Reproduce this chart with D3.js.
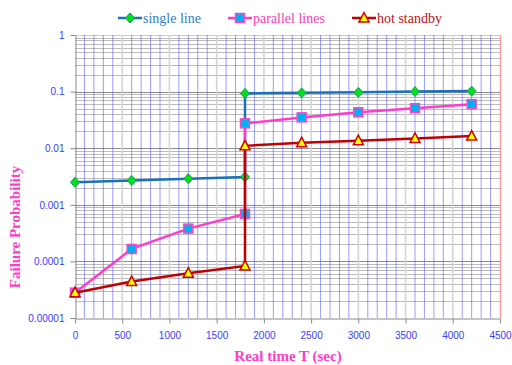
<!DOCTYPE html>
<html>
<head>
<meta charset="utf-8">
<script src="https://cdn.jsdelivr.net/npm/d3@7"></script>
<style>
  body { margin: 0; background: #fff; }
  svg { display: block; }
</style>
</head>
<body>
<script>
// chart data
const times = [0, 600, 1200, 1800, 1800, 2400, 3000, 3600, 4200];
const singleLine = [0.0025, 0.0027, 0.0029, 0.0031, 0.093, 0.095, 0.097, 0.1, 0.102];
const parallelLines = [0.000028, 0.000166, 0.00038, 0.00069, 0.0275, 0.035, 0.043, 0.051, 0.06];
const hotStandby = [0.000028, 0.000044, 0.000062, 0.000083, 0.011, 0.0125, 0.0136, 0.0149, 0.0164];
const seriesNames = ['single line', 'parallel lines', 'hot standby'];
const yTicks = [1, 0.1, 0.01, 0.001, 0.0001, 0.00001];
const yTickLabels = ['1', '0.1', '0.01', '0.001', '0.0001', '0.00001'];
const xTicks = [0, 500, 1000, 1500, 2000, 2500, 3000, 3500, 4000, 4500];

var width = 512, height = 365;
var plot = { left: 75, right: 500, top: 35, bottom: 318 };

var svg = d3.select('body').append('svg')
  .attr('width', width)
  .attr('height', height);

var x = d3.scaleLinear().domain([0, 4500]).range([plot.left, plot.right]);
var y = d3.scaleLog().domain([0.00001, 1]).range([plot.bottom, plot.top]);

var grid = svg.append('g').attr('class', 'grid');

// horizontal minor lines (2..9 in each decade)
var minorY = [];
for (var e = -5; e < 0; e++) {
  for (var k = 2; k <= 9; k++) minorY.push(k * Math.pow(10, e));
}
grid.selectAll('.hminor')
  .data(minorY)
  .enter().append('line')
  .attr('x1', plot.left).attr('x2', plot.right)
  .attr('y1', function(d) { return Math.round(y(d)) + 0.5; })
  .attr('y2', function(d) { return Math.round(y(d)) + 0.5; })
  .attr('stroke', '#bcbcbc')
  .attr('stroke-width', 1);

grid.selectAll('.hmajor')
  .data(yTicks.slice(0, 5))
  .enter().append('line')
  .attr('x1', plot.left).attr('x2', plot.right)
  .attr('y1', function(d) { return Math.round(y(d)) + 0.5; })
  .attr('y2', function(d) { return Math.round(y(d)) + 0.5; })
  .attr('stroke', function(d) { return d === 1 ? '#cccccc' : '#8c8c8c'; })
  .attr('stroke-width', 1);

// vertical lines: blue every 100, gray every 500
var minorX = d3.range(100, 4500, 100).filter(function(d) { return d % 500 !== 0; });
grid.selectAll('.vminor')
  .data(minorX)
  .enter().append('line')
  .attr('x1', function(d) { return x(d); })
  .attr('x2', function(d) { return x(d); })
  .attr('y1', plot.top).attr('y2', plot.bottom)
  .attr('stroke', '#5a5aff')
  .attr('stroke-opacity', 0.6)
  .attr('stroke-width', 1);

grid.selectAll('.vmajor')
  .data(xTicks.slice(1, 9))
  .enter().append('line')
  .attr('x1', function(d) { return x(d); })
  .attr('x2', function(d) { return x(d); })
  .attr('y1', plot.top).attr('y2', plot.bottom)
  .attr('stroke', '#d4d4d4')
  .attr('stroke-width', 1.6);

grid.append('line')
  .attr('x1', x(4500) + 0.5).attr('x2', x(4500) + 0.5)
  .attr('y1', plot.top).attr('y2', plot.bottom)
  .attr('stroke', '#ff9a9a')
  .attr('stroke-width', 1.5);

// axes
var yAxis = svg.append('g')
  .attr('transform', 'translate(' + (plot.left + 0.5) + ',0)')
  .call(d3.axisLeft(y)
    .tickValues(yTicks)
    .tickFormat(function(d, i) { return yTickLabels[i]; })
    .tickSize(5)
    .tickSizeOuter(0)
    .tickPadding(6));

var xAxis = svg.append('g')
  .attr('transform', 'translate(0,' + (plot.bottom + 0.5) + ')')
  .call(d3.axisBottom(x)
    .tickValues(xTicks)
    .tickFormat(d3.format('d'))
    .tickSize(5)
    .tickSizeOuter(0)
    .tickPadding(8));

[yAxis, xAxis].forEach(function(a) {
  a.select('.domain').attr('stroke', '#8a8a8a');
  a.selectAll('.tick line').attr('stroke', '#8a8a8a');
  a.selectAll('.tick text')
    .attr('fill', '#3a3aff')
    .style('font-family', '"Liberation Sans", Arial, sans-serif')
    .style('font-size', '10px');
});

// axis titles
svg.append('text')
  .attr('x', 288)
  .attr('y', 361)
  .attr('text-anchor', 'middle')
  .attr('fill', '#ff3cc8')
  .style('font-family', '"Liberation Serif", "Times New Roman", serif')
  .style('font-weight', 'bold')
  .style('font-size', '15px')
  .text('Real time T (sec)');

svg.append('text')
  .attr('transform', 'translate(20,227) rotate(-90)')
  .attr('text-anchor', 'middle')
  .attr('fill', '#ff3cc8')
  .style('font-family', '"Liberation Serif", "Times New Roman", serif')
  .style('font-weight', 'bold')
  .style('font-size', '15px')
  .text('Failure Probability');

// series
var series = [
  { name: seriesNames[0], values: singleLine, line: '#1a70bb', text: '#2f80c8', marker: 'diamond' },
  { name: seriesNames[1], values: parallelLines, line: '#ff3cc8', text: '#ff3cb4', marker: 'square' },
  { name: seriesNames[2], values: hotStandby, line: '#c00000', text: '#c01010', marker: 'triangle' }
];

function drawMarker(g, type, cx, cy) {
  if (type === 'diamond') {
    g.append('path')
      .attr('d', 'M' + cx + ',' + (cy - 5) + 'L' + (cx + 4.5) + ',' + cy + 'L' + cx + ',' + (cy + 5) + 'L' + (cx - 4.5) + ',' + cy + 'Z')
      .attr('fill', '#00e020')
      .attr('stroke', '#12a050')
      .attr('stroke-width', 1);
  } else if (type === 'square') {
    g.append('rect')
      .attr('x', cx - 4.5).attr('y', cy - 4.5)
      .attr('width', 9).attr('height', 9)
      .attr('fill', '#00b0f0')
      .attr('stroke', '#ff44c8')
      .attr('stroke-width', 1.5);
  } else {
    g.append('path')
      .attr('d', 'M' + cx + ',' + (cy - 5.5) + 'L' + (cx + 5) + ',' + (cy + 4) + 'L' + (cx - 5) + ',' + (cy + 4) + 'Z')
      .attr('fill', '#ffff00')
      .attr('stroke', '#d00000')
      .attr('stroke-width', 1.5);
  }
}

var line = d3.line()
  .x(function(d) { return x(d[0]); })
  .y(function(d) { return y(d[1]); });

series.forEach(function(s) {
  var pts = times.map(function(t, i) { return [t, s.values[i]]; });
  var g = svg.append('g');
  g.append('path')
    .datum(pts)
    .attr('d', line)
    .attr('fill', 'none')
    .attr('stroke', s.line)
    .attr('stroke-width', 2.5);
  pts.forEach(function(p) { drawMarker(g, s.marker, x(p[0]), y(p[1])); });
});

// legend
var legendX = [118, 228, 352];
series.forEach(function(s, i) {
  var lg = svg.append('g').attr('transform', 'translate(' + legendX[i] + ',18)');
  lg.append('line')
    .attr('x1', 0).attr('x2', 24)
    .attr('stroke', s.line)
    .attr('stroke-width', 2.5);
  drawMarker(lg, s.marker, 12, 0);
  lg.append('text')
    .attr('x', 25)
    .attr('y', 4.5)
    .attr('fill', s.text)
    .style('font-family', '"Liberation Serif", "Times New Roman", serif')
    .style('font-size', '14px')
    .text(s.name);
});
</script>
</body>
</html>
